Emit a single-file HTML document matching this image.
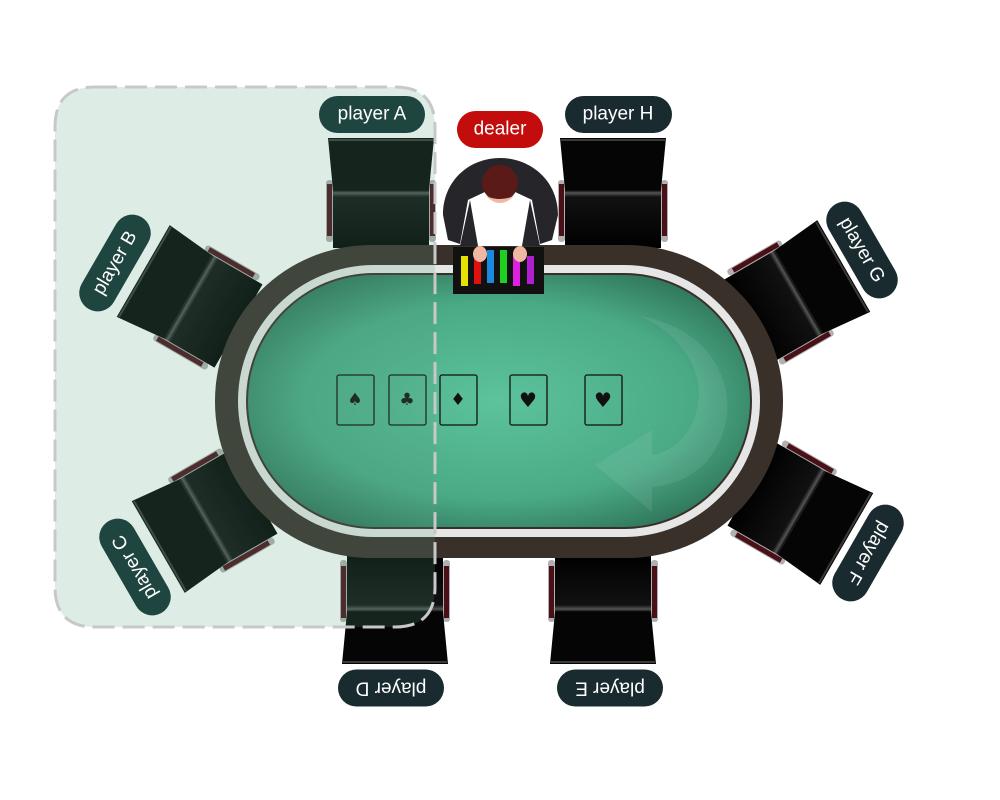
<!DOCTYPE html>
<html><head><meta charset="utf-8"><style>
html,body{margin:0;padding:0;background:#fff;}
svg{display:block;}
text{font-family:"Liberation Sans",sans-serif;font-size:19px;fill:#fff;text-anchor:middle;dominant-baseline:central;}
</style></head><body>
<svg width="1000" height="800" viewBox="0 0 1000 800" xmlns="http://www.w3.org/2000/svg">
<defs>
<radialGradient id="felt" cx="0.5" cy="0.5" r="0.6">
<stop offset="0" stop-color="#5cc39c"/><stop offset="0.65" stop-color="#4aaa86"/><stop offset="1" stop-color="#2e7258"/>
</radialGradient>
<linearGradient id="seat" x1="0" y1="0" x2="0" y2="1">
<stop offset="0" stop-color="#000"/><stop offset="0.05" stop-color="#555"/><stop offset="0.12" stop-color="#111"/><stop offset="1" stop-color="#000"/>
</linearGradient>
<g id="chair">
<rect x="-55" y="-12" width="7" height="62" rx="3" fill="#b0b0b0"/>
<rect x="48" y="-12" width="7" height="62" rx="3" fill="#b0b0b0"/>
<rect x="-54" y="-8" width="5" height="52" fill="#4a1018"/>
<rect x="49" y="-8" width="5" height="52" fill="#4a1018"/>
<path d="M-53,-54 L53,-54 L48,-2 L-48,-2 Z" fill="#050505"/>
<rect x="-52" y="-53" width="104" height="2" fill="#3a3a3a"/>
<rect x="-48" y="-2" width="96" height="58" fill="url(#seat)"/>
</g>
</defs>

<use href="#chair" transform="translate(381,192)"/>
<use href="#chair" transform="translate(613,192)"/>
<use href="#chair" transform="translate(395,610) rotate(180)"/>
<use href="#chair" transform="translate(603,610) rotate(180)"/>
<use href="#chair" transform="translate(190,298) rotate(-60)"/>
<use href="#chair" transform="translate(205,520) rotate(-120)"/>
<use href="#chair" transform="translate(797,293) rotate(60)"/>
<use href="#chair" transform="translate(800,512) rotate(120)"/>

<rect x="215" y="245" width="568" height="313" rx="156" fill="#3a302a"/>
<rect x="238" y="265" width="522" height="272" rx="136" fill="#e6e6e6"/>
<rect x="246" y="273" width="506" height="256" rx="128" fill="#3a2e28"/>
<rect x="248" y="275" width="502" height="252" rx="126" fill="url(#felt)"/>
<path d="M640,316 C720,330 745,400 715,450 C700,475 675,485 652,487 L652,512 L595,465 L652,430 L652,455 C690,450 712,400 690,360 C678,338 660,325 640,316 Z" fill="#ffffff" opacity="0.08"/>

<g fill="none" stroke="#111" stroke-width="1.3">
<rect x="337" y="375" width="37" height="50" rx="2"/>
<rect x="389" y="375" width="37" height="50" rx="2"/>
<rect x="440" y="375" width="37" height="50" rx="2"/>
<rect x="510" y="375" width="37" height="50" rx="2"/>
<rect x="585" y="375" width="37" height="50" rx="2"/>
</g>
<g style="fill:#111;font-family:'DejaVu Sans'">
<text x="355" y="400" style="fill:#111;font-size:17px;font-family:'DejaVu Sans'">♠</text>
<text x="407" y="400" style="fill:#111;font-size:17px;font-family:'DejaVu Sans'">♣</text>
<text x="458" y="400" style="fill:#111;font-size:17px;font-family:'DejaVu Sans'">♦</text>
<text x="528" y="400" style="fill:#111;font-size:20px;font-family:'DejaVu Sans'">♥</text>
<text x="603" y="400" style="fill:#111;font-size:20px;font-family:'DejaVu Sans'">♥</text>
</g>

<rect x="453" y="247" width="91" height="47" fill="#111"/>
<rect x="461" y="256" width="7" height="30" fill="#e8e000"/>
<rect x="474" y="254" width="7" height="30" fill="#e01010"/>
<rect x="487" y="250" width="7" height="33" fill="#1a8ae0"/>
<rect x="500" y="250" width="7" height="33" fill="#20d020"/>
<rect x="513" y="254" width="7" height="32" fill="#e020e0"/>
<rect x="527" y="256" width="7" height="28" fill="#b020d0"/>
<path d="M443,215 C443,180 470,158 500,158 C530,158 558,180 558,215 L552,240 L540,244 L532,200 L515,192 L485,192 L468,200 L460,244 L448,240 Z" fill="#26252a"/>
<path d="M468,200 L485,192 L515,192 L532,200 L530,246 L470,246 Z" fill="#fff"/>
<path d="M470,200 L478,246 L460,246 Z" fill="#26252a"/>
<path d="M530,200 L522,246 L540,246 Z" fill="#26252a"/>
<ellipse cx="500" cy="183" rx="18" ry="18" fill="#5a1a18"/>
<path d="M486,196 Q500,210 514,196 Q500,202 486,196Z" fill="#f0b8a0"/>
<ellipse cx="480" cy="254" rx="7" ry="8" fill="#f0b8a0"/>
<ellipse cx="520" cy="254" rx="7" ry="8" fill="#f0b8a0"/>

<path d="M95,87 L395,87 Q435,87 435,127 L435,587 Q435,627 395,627 L95,627 Q55,627 55,587 L55,127 Q55,87 95,87 Z" fill="rgb(90,160,130)" fill-opacity="0.2" stroke="#c8c8c8" stroke-width="3" stroke-dasharray="22,8"/>

<rect x="319" y="96" width="106" height="37" rx="18.5" fill="#1f4540"/>
<text x="372" y="114">player A</text>
<rect x="565" y="96" width="107" height="37" rx="18.5" fill="#1a2b30"/>
<text x="618" y="114">player H</text>
<rect x="457" y="111" width="86" height="37" rx="18.5" fill="#c30c0c"/>
<text x="500" y="129">dealer</text>
<g transform="translate(391,688) rotate(180)"><rect x="-53" y="-18.5" width="106" height="37" rx="18.5" fill="#1a2b30"/><text x="0" y="0">player D</text></g>
<g transform="translate(610,688) rotate(180)"><rect x="-53" y="-18.5" width="106" height="37" rx="18.5" fill="#1a2b30"/><text x="0" y="0">player E</text></g>
<g transform="translate(115,263) rotate(-60)"><rect x="-53" y="-18.5" width="106" height="37" rx="18.5" fill="#1f4540"/><text x="0" y="0">player B</text></g>
<g transform="translate(135,567) rotate(-120)"><rect x="-53" y="-18.5" width="106" height="37" rx="18.5" fill="#1f4540"/><text x="0" y="0">player C</text></g>
<g transform="translate(862,250) rotate(60)"><rect x="-53" y="-18.5" width="106" height="37" rx="18.5" fill="#1a2b30"/><text x="0" y="0">player G</text></g>
<g transform="translate(868,553) rotate(120)"><rect x="-53" y="-18.5" width="106" height="37" rx="18.5" fill="#1a2b30"/><text x="0" y="0">player F</text></g>
</svg>
</body></html>
